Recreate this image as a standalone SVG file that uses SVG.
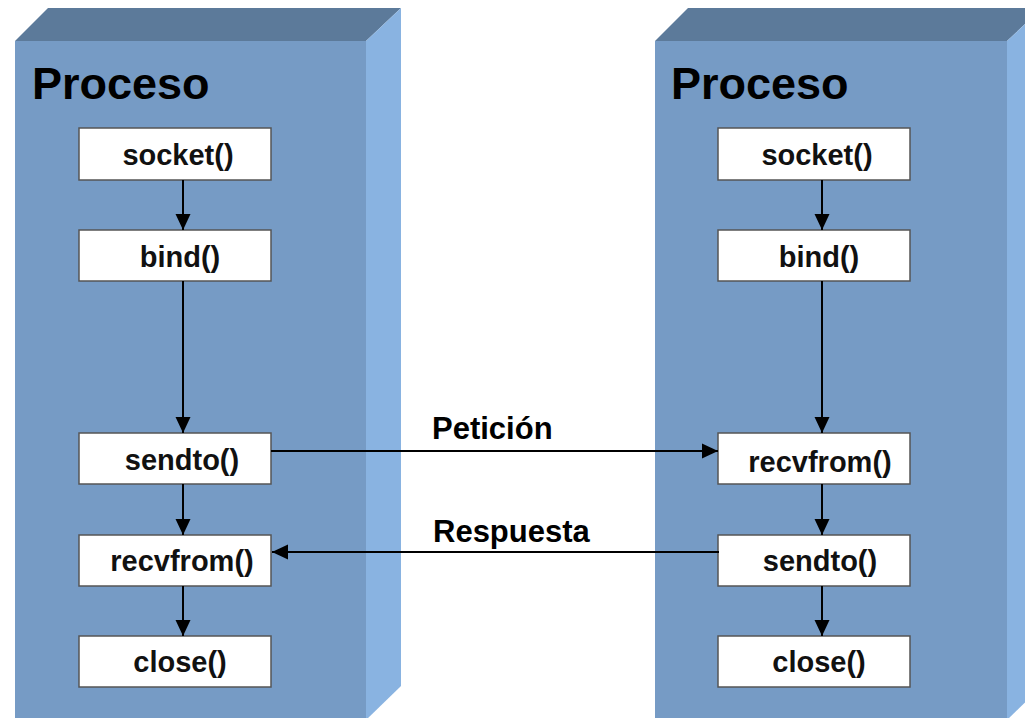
<svg xmlns="http://www.w3.org/2000/svg" width="1025" height="718" viewBox="0 0 1025 718">
<style>
.front{fill:#769BC5}
.top{fill:#5C7A9A}
.side{fill:#89B3E1}
.title{font-family:"Liberation Sans",Arial,sans-serif;font-weight:bold;font-size:45px;fill:#000}
.box{fill:#fff;stroke:#555;stroke-width:1.5}
.lbl{font-family:"Liberation Sans",Arial,sans-serif;font-weight:bold;font-size:29px;fill:#111;text-anchor:middle}
.alb{font-family:"Liberation Sans",Arial,sans-serif;font-weight:bold;font-size:31px;fill:#000}
.ln{stroke:#000;stroke-width:2;fill:none;marker-end:url(#ah)}
</style>
<defs>
<marker id="ah" markerUnits="userSpaceOnUse" markerWidth="16" markerHeight="16" viewBox="0 0 16 16" refX="16" refY="8" orient="auto">
<path d="M0,0.5 L16,8 L0,15.5 Z" fill="#000"/>
</marker>
</defs>
<rect width="1025" height="718" fill="#fff"/>
<g id="proc-left">
<polygon class="top" points="15,41 48,8 401,8 366,41"/>
<polygon class="side" points="366,41 401,8 401,686 366,720"/>
<rect class="front" x="15" y="41" width="351" height="680"/>
<text class="title" x="32" y="99">Proceso</text>
</g>
<g id="proc-right">
<polygon class="top" points="655,41 688,8 1042,8 1007,41"/>
<polygon class="side" points="1007,41 1042,8 1042,686 1007,720"/>
<rect class="front" x="655" y="41" width="352" height="680"/>
<text class="title" x="671" y="99">Proceso</text>
</g>
<g id="l-socket"><rect class="box" x="79" y="128" width="192" height="52"/><text class="lbl" x="178" y="165">socket()</text></g>
<g id="l-bind"><rect class="box" x="79" y="230" width="192" height="51"/><text class="lbl" x="180" y="267">bind()</text></g>
<g id="l-sendto"><rect class="box" x="79" y="433" width="192" height="51"/><text class="lbl" x="182" y="470">sendto()</text></g>
<g id="l-recvfrom"><rect class="box" x="79" y="535" width="192" height="51"/><text class="lbl" x="182" y="571">recvfrom()</text></g>
<g id="l-close"><rect class="box" x="79" y="636" width="192" height="51"/><text class="lbl" x="180" y="672">close()</text></g>
<g id="r-socket"><rect class="box" x="718" y="128" width="192" height="52"/><text class="lbl" x="817" y="165">socket()</text></g>
<g id="r-bind"><rect class="box" x="718" y="230" width="192" height="51"/><text class="lbl" x="819" y="267">bind()</text></g>
<g id="r-recvfrom"><rect class="box" x="718" y="433" width="192" height="51"/><text class="lbl" x="820" y="472">recvfrom()</text></g>
<g id="r-sendto"><rect class="box" x="718" y="535" width="192" height="51"/><text class="lbl" x="820" y="571">sendto()</text></g>
<g id="r-close"><rect class="box" x="718" y="636" width="192" height="51"/><text class="lbl" x="819" y="672">close()</text></g>
<g id="connectors">
<line class="ln" x1="183" y1="180" x2="183" y2="230"/>
<line class="ln" x1="183" y1="281" x2="183" y2="433"/>
<line class="ln" x1="183" y1="484" x2="183" y2="535"/>
<line class="ln" x1="183" y1="586" x2="183" y2="636"/>
<line class="ln" x1="822" y1="180" x2="822" y2="230"/>
<line class="ln" x1="822" y1="281" x2="822" y2="433"/>
<line class="ln" x1="822" y1="484" x2="822" y2="535"/>
<line class="ln" x1="822" y1="586" x2="822" y2="636"/>
<line class="ln" x1="271" y1="451" x2="718" y2="451"/>
<line class="ln" x1="719" y1="552" x2="272" y2="552"/>
<text class="alb" x="432" y="439">Petición</text>
<text class="alb" x="433" y="542">Respuesta</text>
</g>
</svg>
